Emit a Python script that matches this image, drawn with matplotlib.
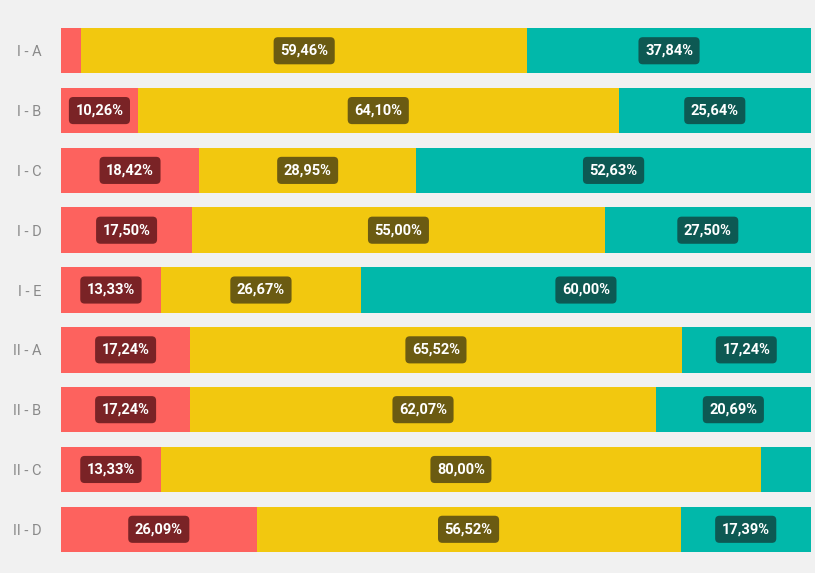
import numpy as np
import matplotlib.pyplot as plt

categories = ['I - A', 'I - B', 'I - C', 'I - D', 'I - E', 'II - A', 'II - B', 'II - C', 'II - D']
red_pct = [2.70, 10.26, 18.42, 17.50, 13.33, 17.24, 17.24, 13.33, 26.09]
yellow_pct = [59.46, 64.10, 28.95, 55.00, 26.67, 65.52, 62.07, 80.00, 56.52]
teal_pct = [37.84, 25.64, 52.63, 27.50, 60.00, 17.24, 20.69, 6.67, 17.39]

series = [
    (red_pct, '#fd625e', '#7a2326'),
    (yellow_pct, '#f2c80f', '#6b5b12'),
    (teal_pct, '#01b8aa', '#0d5953'),
]

fig = plt.figure(figsize=(8.15, 5.73), dpi=100)
fig.patch.set_facecolor('#f1f1f1')
ax = fig.add_axes([0.0748, 0.0366, 0.9202, 0.9145])
ax.set_facecolor('#f1f1f1')

y = np.arange(len(categories))
left = np.zeros(len(categories))
for vals, color, dark in series:
    vals = np.array(vals)
    ax.barh(y, vals, left=left, height=0.76, color=color, linewidth=0)
    for yi, l, v in zip(y, left, vals):
        if v < 8:
            continue
        ax.text(l + v / 2, yi, f'{v:.2f}'.replace('.', ',') + '%',
                ha='center', va='center', color='white', fontsize=10.5,
                fontweight='bold', family='Roboto',
                bbox=dict(boxstyle='round,pad=0.45,rounding_size=0.3',
                          fc=dark, ec='none'))
    left += vals

ax.set_xlim(0, 100)
ax.set_ylim(8.38, -0.38)
ax.set_yticks(y)
ax.set_yticklabels(categories, color='#8a8a8a', fontsize=10.5, family='Roboto')
ax.set_xticks([])
ax.tick_params(axis='y', length=0, pad=14)
for s in ax.spines.values():
    s.set_visible(False)

fig.savefig('out.png', dpi=100, facecolor=fig.get_facecolor())
